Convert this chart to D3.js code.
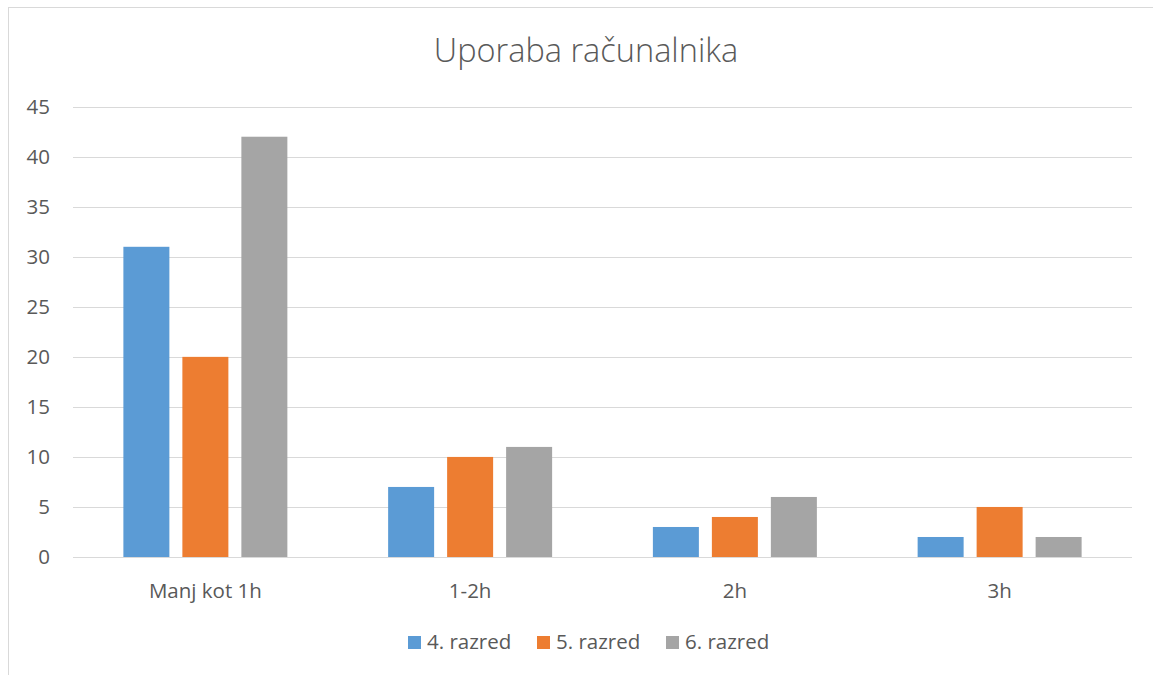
<!DOCTYPE html>
<html><head><meta charset="utf-8">
<script src="https://cdn.jsdelivr.net/npm/d3@7"></script>
<style>body{margin:0;background:#fff}svg{display:block}text{font-family:"Open Sans",sans-serif;fill:#595959}</style>
</head><body><svg id="c" width="1153" height="675"></svg>
<script>
const categories = ["Manj kot 1h", "1-2h", "2h", "3h"];
const seriesNames = ["4. razred", "5. razred", "6. razred"];
const values4 = [31, 7, 3, 2];
const values5 = [20, 10, 4, 5];
const values6 = [42, 11, 6, 2];
const yTicks = [0, 5, 10, 15, 20, 25, 30, 35, 40, 45];
const colors = ["#5B9BD5", "#ED7D31", "#A5A5A5"];
const seriesValues = [values4, values5, values6];

(function () {
const FONT = "'Open Sans', sans-serif";
const svg = d3.select("#c");
svg.append("rect").attr("x", 8.5).attr("y", 7.5).attr("width", 1200).attr("height", 700)
  .attr("fill", "none").attr("stroke", "#D9D9D9").attr("stroke-width", 1);

const pLeft = 73, pRight = 1132, pTop = 106.7, pBottom = 557;
const x0 = d3.scaleBand().domain(categories).range([pLeft, pRight]).paddingInner(0).paddingOuter(0);
const x1 = d3.scaleBand().domain(seriesNames).range([0, x0.bandwidth()]).paddingInner(13/59).paddingOuter(0.854);
const y = d3.scaleLinear().domain([0, 45]).range([pBottom, pTop]);

svg.append("g").selectAll("line").data(yTicks).join("line")
  .attr("x1", pLeft).attr("x2", pRight)
  .attr("y1", d => Math.round(y(d)) + 0.5).attr("y2", d => Math.round(y(d)) + 0.5)
  .attr("stroke", "#D9D9D9").attr("stroke-width", 1);

const yAxis = d3.axisLeft(y).tickValues(yTicks).tickSize(0).tickPadding(0);
const ya = svg.append("g").attr("transform", `translate(50,0)`).call(yAxis);
ya.select(".domain").remove();
ya.selectAll("text").attr("font-size", 20.5).attr("fill", "#595959").style("font-family", FONT);

const groups = svg.append("g").selectAll("g").data(categories).join("g")
  .attr("transform", d => `translate(${x0(d)},0)`);
groups.selectAll("rect").data((d, i) => seriesNames.map((s, j) => ({s, v: seriesValues[j][i], j})))
  .join("rect")
  .attr("x", d => x1(d.s)).attr("width", x1.bandwidth())
  .attr("y", d => y(d.v)).attr("height", d => y(0) - y(d.v))
  .attr("fill", d => colors[d.j]);

const xAxis = d3.axisBottom(x0).tickSize(0).tickPadding(0);
const xa = svg.append("g").attr("transform", `translate(0,${pBottom + 26})`).call(xAxis);
xa.select(".domain").remove();
xa.selectAll("text").attr("font-size", 20.5).attr("fill", "#595959").style("font-family", FONT);

svg.append("text").attr("x", 586).attr("y", 62).attr("text-anchor", "middle")
  .attr("font-size", 32.5).attr("font-weight", 300).text("Uporaba računalnika");

const legendX = [408, 537, 666];
const lg = svg.append("g").selectAll("g").data(seriesNames).join("g")
  .attr("transform", (d, i) => `translate(${legendX[i]},636)`);
lg.append("rect").attr("width", 13).attr("height", 13).attr("fill", (d, i) => colors[i]);
lg.append("text").attr("x", 19).attr("y", 12.5).attr("font-size", 20.5).text(d => d);
})();
</script></body></html>
